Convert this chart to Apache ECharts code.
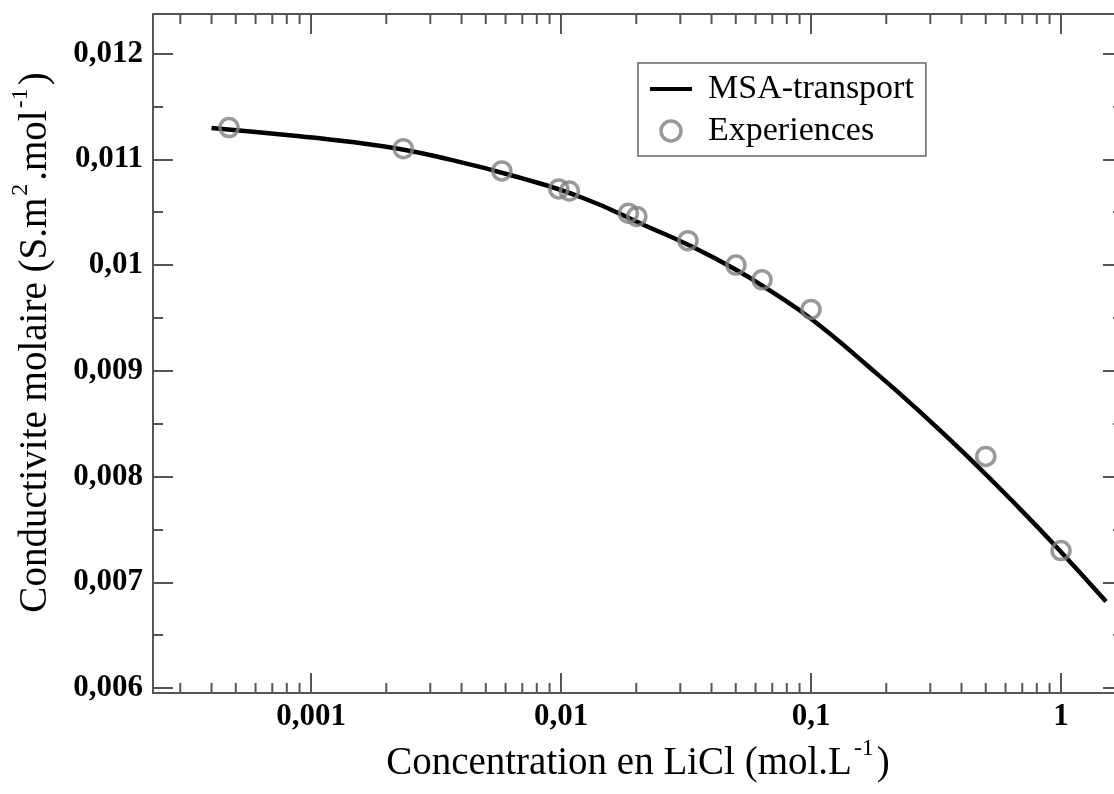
<!DOCTYPE html>
<html lang="fr">
<head>
    <meta charset="UTF-8">
    <title>Conductivite molaire LiCl</title>
    <script src="https://cdn.jsdelivr.net/npm/echarts@6/dist/echarts.min.js"></script>
</head>
<body style="margin:0">
    <div id="ec" style="width:1114px;height:794px"></div>
<script>
    // courbe MSA-transport
    var msaConc = [0.0004, 0.0009, 0.00194, 0.0036, 0.00667, 0.01225, 0.0227, 0.0322, 0.0501, 0.0686, 0.1, 0.172, 0.273, 0.4325, 0.6855, 1.0, 1.514]
    var msaCond = [0.011297, 0.011217, 0.011123, 0.010997, 0.010833, 0.010634, 0.010353, 0.010192, 0.009956, 0.009757, 0.009492, 0.009029, 0.008612, 0.008167, 0.007694, 0.007287, 0.006819]

    // points experimentaux
    var expConc = [0.00047, 0.00234, 0.0058, 0.0098, 0.0108, 0.0186, 0.0201, 0.0322, 0.0501, 0.0637, 0.1, 0.5, 1.0]
    var expCond = [0.01130, 0.01110, 0.01089, 0.01072, 0.01070, 0.01049, 0.01046, 0.01023, 0.01000, 0.00986, 0.00958, 0.00819, 0.00730]

    var xTickValues = [0.001, 0.01, 0.1, 1]
    var xTickLabels = ['0,001', '0,01', '0,1', '1']
    var yTickValues = [0.006, 0.007, 0.008, 0.009, 0.01, 0.011, 0.012]
    var yTickLabels = ['0,006', '0,007', '0,008', '0,009', '0,01', '0,011', '0,012']

    var xMin = 0.0002333, xMax = 1.77
    var yMin = 0.005953, yMax = 0.012374

    var font = 'Liberation Serif'
    var axisColor = '#555'

    // petites graduations log (2..9 par decade)
    var xMinor = []
    ;[0.0001, 0.001, 0.01, 0.1, 1].forEach(function(d) {
        for (var m = 2; m <= 9; m++) {
            var v = m * d
            if (v > xMin && v < xMax) xMinor.push(v)
        }
    })

    function xLabel(v) {
        for (var i = 0; i < xTickValues.length; i++) {
            if (Math.abs(Math.log10(v) - Math.log10(xTickValues[i])) < 1e-6) return xTickLabels[i]
        }
        return ''
    }
    function yLabel(v) {
        for (var i = 0; i < yTickValues.length; i++) {
            if (Math.abs(v - yTickValues[i]) < 1e-9) return yTickLabels[i]
        }
        return ''
    }

    var lineSt = {color: axisColor, width: 2}
    var nameStyle = {
        fontFamily: font, fontSize: 39, color: '#000', lineHeight: 54,
        rich: {sup: {fontFamily: font, fontSize: 24, color: '#000', lineHeight: 24, verticalAlign: 'top', padding: [0, 3, 0, 2]}}
    }

    function xAxisOf(pos, withLabels) {
        var ax = {
            type: 'log', logBase: 10, min: xMin, max: xMax, position: pos,
            axisLine: {lineStyle: lineSt},
            axisTick: {inside: true, length: 20, lineStyle: lineSt},
            axisLabel: {show: withLabels, formatter: xLabel, showMinLabel: false, showMaxLabel: false,
                fontFamily: font, fontWeight: 'bold', fontSize: 31, color: '#000', margin: 8},
            splitLine: {show: false}
        }
        if (withLabels) {
            ax.name = 'Concentration en LiCl (mol.L{sup|-1})'
            ax.nameLocation = 'middle'
            ax.nameGap = 40
            ax.nameTextStyle = nameStyle
        }
        return ax
    }
    function yAxisOf(pos, withLabels) {
        var ax = {
            type: 'value', min: yMin, max: yMax, splitNumber: 6, position: pos,
            axisLine: {lineStyle: lineSt},
            axisTick: {inside: true, length: 20, lineStyle: lineSt},
            minorTick: {show: true, splitNumber: 2, length: 10, lineStyle: lineSt},
            axisLabel: {show: withLabels, formatter: yLabel, showMinLabel: false, showMaxLabel: false,
                fontFamily: font, fontWeight: 'bold', fontSize: 31, color: '#000', margin: 10},
            splitLine: {show: false}
        }
        if (withLabels) {
            ax.name = 'Conductivite molaire (S.m{sup|2}.mol{sup|-1})'
            ax.nameLocation = 'middle'
            ax.nameGap = 75
            ax.nameTextStyle = Object.assign({}, nameStyle, {padding: [0, 0, 0, 22]})
        }
        return ax
    }

    var mychart = echarts.init(document.getElementById('ec'))
    var options = {
        animation: false,
        grid: {left: 153, top: 14, width: 970, height: 679, outerBoundsMode: 'none', containLabel: false},
        legend: {
            orient: 'vertical', left: 638, top: 63,
            itemWidth: 42, itemHeight: 20, itemGap: 8,
            padding: [9, 12, 8, 10],
            borderColor: '#666', borderWidth: 1.5,
            textStyle: {fontFamily: font, fontSize: 34, color: '#000', padding: [0, 0, 0, 11]},
            data: [
                {name: 'MSA-transport', itemStyle: {opacity: 0}, lineStyle: {width: 4, color: '#000'}},
                {name: 'Experiences', itemStyle: {color: 'rgba(255,255,255,0)', borderColor: '#808080', borderWidth: 3.5}}
            ]
        },
        xAxis: [xAxisOf('bottom', true), xAxisOf('top', false)],
        yAxis: [yAxisOf('left', true), yAxisOf('right', false)],
        series: [
            {
                type: 'custom', silent: true, z: 1,
                data: xMinor.map(function(v) { return [v, yMin] }),
                renderItem: function(params, api) {
                    var x = api.value(0)
                    var b = api.coord([x, yMin])
                    var t = api.coord([x, yMax])
                    var st = {stroke: axisColor, lineWidth: 2}
                    return {type: 'group', children: [
                        {type: 'line', shape: {x1: b[0], y1: b[1], x2: b[0], y2: b[1] - 10}, style: st},
                        {type: 'line', shape: {x1: t[0], y1: t[1], x2: t[0], y2: t[1] + 10}, style: st}
                    ]}
                }
            },
            {
                name: 'MSA-transport', type: 'line', symbol: 'none', smooth: 0.5, z: 2,
                lineStyle: {color: '#000', width: 4.5},
                itemStyle: {color: '#000'},
                data: msaConc.map(function(c, i) { return [c, msaCond[i]] })
            },
            {
                name: 'Experiences', type: 'scatter', symbol: 'circle', symbolSize: 18, z: 3,
                itemStyle: {color: 'rgba(255,255,255,0)', borderColor: '#808080', borderWidth: 3.5},
                data: expConc.map(function(c, i) { return [c, expCond[i]] })
            }
        ]
    }
    mychart.setOption(options)
</script>
</body>
</html>
